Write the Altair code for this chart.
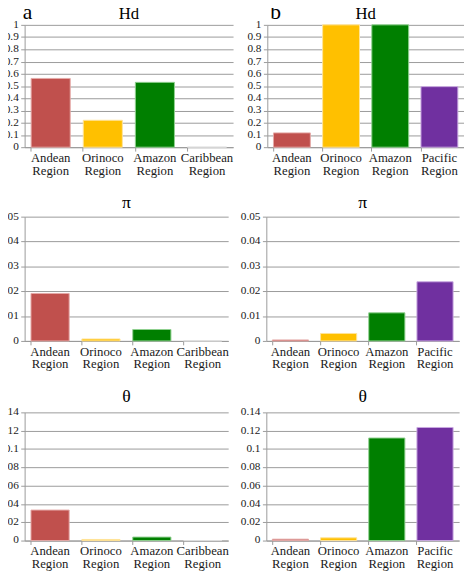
import altair as alt
import pandas as pd

cats_a = ["Andean Region", "Orinoco Region", "Amazon Region", "Caribbean Region"]
cats_b = ["Andean Region", "Orinoco Region", "Amazon Region", "Pacific Region"]
colors_a = ["#C0504D", "#FFC000", "#007F00", "#BBBBBB"]
colors_b = ["#C0504D", "#FFC000", "#007F00", "#7030A0"]
edges_a = ["#E4A9A7", "#FFE39A", "#8FD08F", "#DDDDDD"]
edges_b = ["#E4A9A7", "#FFE39A", "#8FD08F", "#C9A8E0"]

hd_a = [0.562, 0.220, 0.530, 0.0]
hd_b = [0.117, 1.0, 1.0, 0.495]
pi_a = [0.0191, 0.0008, 0.0046, 0.0]
pi_b = [0.0004, 0.0030, 0.0113, 0.0238]
th_a = [0.0333, 0.0012, 0.0038, 0.0]
th_b = [0.0015, 0.0030, 0.112, 0.1235]

hd_ticks = [0, 0.1, 0.2, 0.3, 0.4, 0.5, 0.6, 0.7, 0.8, 0.9, 1]
pi_ticks = [0, 0.01, 0.02, 0.03, 0.04, 0.05]
th_ticks = [0, 0.02, 0.04, 0.06, 0.08, 0.1, 0.12, 0.14]

SERIF = "Times New Roman, Liberation Serif, serif"
GRID = "#9a9a9a"
INK = "#1a1a1a"


def panel(cats, colors, edges, vals, title, ticks, w, h, letter=None, ty=-9, tsize=18):
    df = pd.DataFrame({"region": cats, "value": vals, "fill": colors, "edge": edges})
    xscale = alt.Scale(domain=cats, paddingInner=0.25, paddingOuter=0.125)
    yscale = alt.Scale(domain=[ticks[0], ticks[-1]], nice=False, zero=True)
    xaxis = alt.Axis(
        title=None, labels=False, bandPosition=0,
        tickSize=4, tickColor=GRID, domainColor=GRID, grid=False,
    )
    yaxis = alt.Axis(
        title=None, values=ticks, labels=False,
        tickSize=4, tickColor=GRID, domainColor=GRID,
        grid=True, gridColor=GRID, gridWidth=1,
    )
    bars = alt.Chart(df).mark_bar(strokeWidth=1).encode(
        x=alt.X("region:N", sort=cats, scale=xscale, axis=xaxis),
        y=alt.Y("value:Q", scale=yscale, axis=yaxis),
        color=alt.Color("fill:N", scale=None),
        stroke=alt.Stroke("edge:N", scale=None),
    )
    ydf = pd.DataFrame({"v": ticks})
    ylab = alt.Chart(ydf).mark_text(
        font=SERIF, fontSize=11.5, align="right", baseline="middle", color=INK
    ).encode(
        y=alt.Y("v:Q", scale=yscale, axis=yaxis),
        x=alt.value(-6),
        text=alt.Text("v:Q", format=".2~f"),
    )
    xdf = pd.DataFrame({"region": cats})
    xlab = alt.Chart(xdf).mark_text(
        font=SERIF, fontSize=13, align="center", baseline="top", color=INK,
        lineBreak=" ", lineHeight=13,
    ).encode(
        x=alt.X("region:N", sort=cats, scale=xscale, axis=xaxis),
        y=alt.value(h + 5),
        text="region:N",
    )
    tdf = pd.DataFrame({"t": [title]})
    ttl = alt.Chart(tdf).mark_text(
        font=SERIF, fontSize=tsize, align="center", baseline="alphabetic", color="#000"
    ).encode(text="t:N", x=alt.value(w / 2), y=alt.value(ty))
    layers = [bars, ylab, xlab, ttl]
    if letter is not None:
        ldf = pd.DataFrame({"t": [letter]})
        txt = alt.Chart(ldf).mark_text(
            font=SERIF, fontSize=22, align="left", baseline="alphabetic", color="#000"
        ).encode(text="t:N", x=alt.value(-2 if letter == "a" else 3), y=alt.value(ty))
        layers.append(txt)
    return alt.layer(*layers).properties(width=w, height=h)


row1 = alt.hconcat(
    panel(cats_a, colors_a, edges_a, hd_a, "Hd", hd_ticks, 213, 125, "a", ty=-6, tsize=17),
    panel(cats_b, colors_b, edges_b, hd_b, "Hd", hd_ticks, 201, 125, "b", ty=-6, tsize=17),
    spacing=35, bounds="flush",
)
row2 = alt.hconcat(
    panel(cats_a, colors_a, edges_a, pi_a, "π", pi_ticks, 208, 127),
    panel(cats_b, colors_b, edges_b, pi_b, "π", pi_ticks, 197, 127),
    spacing=39, bounds="flush",
)
row3 = alt.hconcat(
    panel(cats_a, colors_a, edges_a, th_a, "θ", th_ticks, 208, 131, ty=-11),
    panel(cats_b, colors_b, edges_b, th_b, "θ", th_ticks, 197, 131, ty=-11),
    spacing=39, bounds="flush",
)

chart = alt.vconcat(row1, row2, row3, spacing=17).properties(
    padding={"left": -10, "top": -13, "right": 0, "bottom": 0},
    background="white",
).configure_view(stroke=None)

chart.save("out.html", embed_options={"renderer": "svg", "actions": False})
